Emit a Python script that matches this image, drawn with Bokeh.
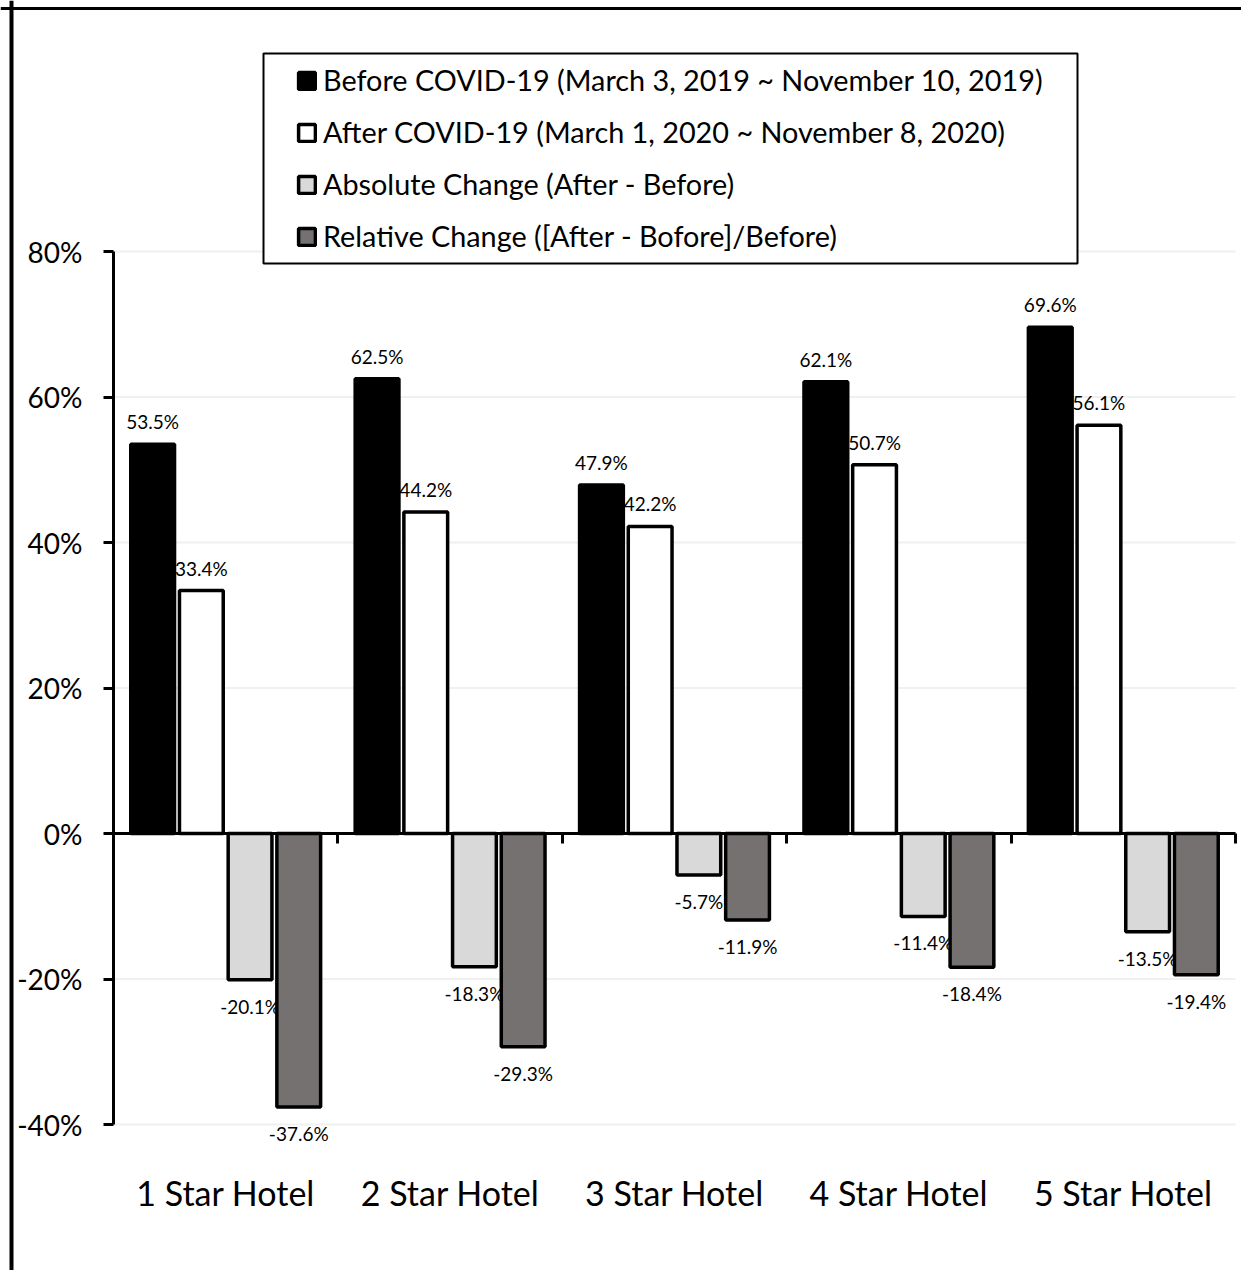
import numpy as np
from bokeh.plotting import figure
from bokeh.models import (LinearAxis, FixedTicker, NumeralTickFormatter, Range1d,
                          Legend, LegendItem, ColumnDataSource, Span, BoxAnnotation)
from bokeh.core.properties import value
from bokeh.embed import file_html
from bokeh.resources import INLINE

categories = ["1 Star Hotel", "2 Star Hotel", "3 Star Hotel", "4 Star Hotel", "5 Star Hotel"]
before = [53.5, 62.5, 47.9, 62.1, 69.6]
after = [33.4, 44.2, 42.2, 50.7, 56.1]
absolute_change = [-20.1, -18.3, -5.7, -11.4, -13.5]
relative_change = [-37.6, -29.3, -11.9, -18.4, -19.4]
y_ticks = [-0.4, -0.2, 0.0, 0.2, 0.4, 0.6, 0.8]

series = [
    ("Before COVID-19 (March 3, 2019 ~ November 10, 2019)", before, "#000000"),
    ("After COVID-19 (March 1, 2020 ~ November 8, 2020)", after, "#ffffff"),
    ("Absolute Change (After - Before)", absolute_change, "#d9d9d9"),
    ("Relative Change ([After - Bofore]/Before)", relative_change, "#767171"),
]

FONT = "Lato"
W, H = 1241, 1270
# pixel layout of the plotting area inside the canvas
X0, X1 = 113, 1235          # left/right of category axis
Y0, PY = 833, 727.5         # pixel of 0% and pixels per 100%
CW = (X1 - X0) / len(categories)
x_range = Range1d((0 - X0) / CW, (W - X0) / CW)
y_range = Range1d((Y0 - H) / PY, Y0 / PY)

p = figure(width=W, height=H, output_backend="svg", toolbar_location=None,
           x_range=x_range, y_range=y_range,
           min_border_left=0, min_border_right=0, min_border_top=0, min_border_bottom=0)
p.outline_line_color = None
p.background_fill_color = "white"
p.border_fill_color = "white"
p.xgrid.visible = False
p.ygrid.visible = False
p.xaxis.visible = False
p.yaxis.visible = False

# outer border (left and top edges visible in the reference)
p.add_layout(Span(location=11, location_units="screen", dimension="height",
                  line_color="black", line_width=4))
p.add_layout(Span(location=H - 8, location_units="screen", dimension="width",
                  line_color="black", line_width=3))

# faint horizontal gridlines
p.segment(x0=0, x1=len(categories), y0=y_ticks, y1=y_ticks,
          line_color="#f0f0f0", line_width=2, level="underlay")

# y axis
ya = LinearAxis(fixed_location=0, bounds=(y_ticks[0], y_ticks[-1]),
                ticker=FixedTicker(ticks=y_ticks),
                formatter=NumeralTickFormatter(format="0%"))
ya.axis_line_width = 3
ya.major_tick_line_width = 3
ya.major_tick_out = 10
ya.major_tick_in = 0
ya.minor_tick_line_color = None
ya.major_label_standoff = 21
ya.major_label_text_font = FONT
ya.major_label_text_font_size = "28px"
ya.major_label_text_color = "black"
p.add_layout(ya, "left")

# category label axis
xa = LinearAxis(fixed_location=y_ticks[0],
                ticker=FixedTicker(ticks=[i + 0.5 for i in range(len(categories))]))
xa.major_label_overrides = {i + 0.5: c for i, c in enumerate(categories)}
xa.axis_line_color = None
xa.major_tick_line_color = None
xa.minor_tick_line_color = None
xa.major_tick_out = 0
xa.major_tick_in = 0
xa.major_label_standoff = 47
xa.major_label_text_font = FONT
xa.major_label_text_font_size = "34px"
xa.major_label_text_color = "black"
p.add_layout(xa, "below")

# zero line with ticks at category boundaries
za = LinearAxis(fixed_location=0, bounds=(0, len(categories)),
                ticker=FixedTicker(ticks=list(range(1, len(categories) + 1))))
za.axis_line_width = 3
za.major_tick_line_width = 3
za.major_tick_out = 10
za.major_tick_in = 0
za.minor_tick_line_color = None
za.major_label_text_font_size = "0px"
za.major_label_text_color = None
p.add_layout(za, "below")

step = 0.217
bw = 0.195
offsets = [-1.5, -0.5, 0.5, 1.5]
items = []
for k, (name, vals, color) in enumerate(series):
    xs = np.arange(len(categories)) + 0.5 + offsets[k] * step
    ys = np.array(vals) / 100.0
    labs = [f"{v:.1f}%" for v in vals]
    src = ColumnDataSource(dict(x=xs, top=ys))
    r = p.vbar(x="x", top="top", bottom=0, width=bw, source=src,
               fill_color=color, line_color="black", line_width=3.5)
    items.append(LegendItem(label=name, renderers=[r]))
    pos = ys >= 0
    for mask, base, off in ((pos, "bottom", -11), (~pos, "top", 15)):
        if mask.any():
            s2 = ColumnDataSource(dict(x=xs[mask], y=ys[mask],
                                       lab=[l for l, m in zip(labs, mask) if m]))
            p.text(x="x", y="y", text="lab", source=s2, text_align="center",
                   text_baseline=base, y_offset=off, text_font=value(FONT),
                   text_font_size="19px", text_color="black")

# legend box
p.add_layout(BoxAnnotation(left=263, right=1077, top=H - 53, bottom=H - 263,
                           left_units="screen", right_units="screen",
                           top_units="screen", bottom_units="screen",
                           fill_color="white", fill_alpha=1,
                           line_color="black", line_alpha=1, line_width=2))

legend = Legend(items=items, location=(296, H - 253))
legend.glyph_width = 21
legend.glyph_height = 21
legend.label_standoff = 6
legend.label_text_font = FONT
legend.label_text_font_size = "28.8px"
legend.label_text_color = "black"
legend.label_height = 34
legend.spacing = 18
legend.padding = 0
legend.margin = 0
legend.border_line_color = None
legend.background_fill_alpha = 0
p.add_layout(legend, "center")

open("out.html", "w").write(file_html(p, INLINE))
